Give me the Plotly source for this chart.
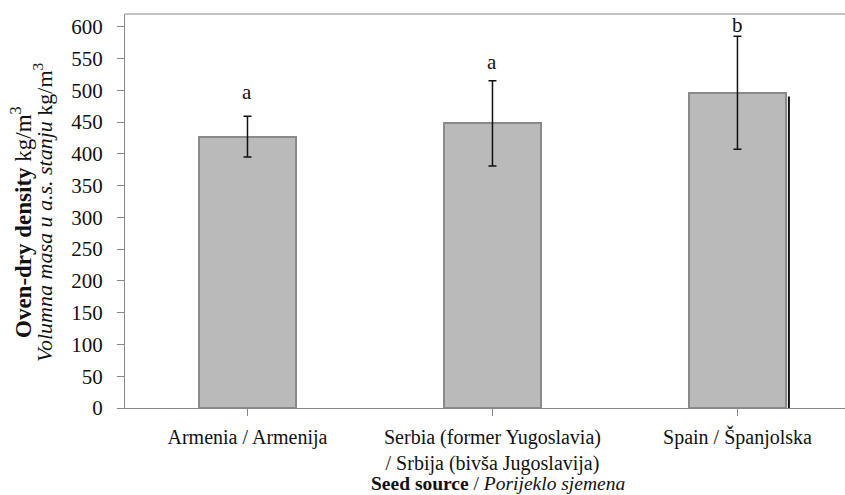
import plotly.graph_objects as go

categories = ["Armenia / Armenija",
              "Serbia (former Yugoslavia)<br>/ Srbija (bivša Jugoslavija)",
              "Spain / Španjolska"]
density = [427, 448, 496]
sd = [32, 67, 89]
letters = ["a", "a", "b"]
letter_y = [498, 545, 603]
yticks = list(range(0, 601, 50))

FONT = "Liberation Serif, Times New Roman, serif"

fig = go.Figure()
fig.add_trace(go.Bar(
    x=[0, 1, 2], y=density, width=0.397,
    marker=dict(color="#bababa", line=dict(color="#8a8a8a", width=2)),
    error_y=dict(type="data", array=sd, visible=True, color="#111111",
                 thickness=1.5, width=4),
    showlegend=False, hoverinfo="skip"))

for i, (ly, l) in enumerate(zip(letter_y, letters)):
    fig.add_annotation(x=i, y=ly, text=l, showarrow=False, yanchor="middle",
                       font=dict(family=FONT, size=21, color="#111"))

# y-axis title (two lines)
fig.add_annotation(xref="paper", yref="paper", x=0, y=0.5, xshift=-104, yshift=-11,
                   text="<b>Oven-dry density</b> kg/m<sup>3</sup>", textangle=-90,
                   showarrow=False, xanchor="center", yanchor="middle",
                   font=dict(family=FONT, size=23, color="#111"))
fig.add_annotation(xref="paper", yref="paper", x=0, y=0.5, xshift=-82, yshift=-1,
                   text="<i>Volumna masa u a.s. stanju</i> kg/m<sup>3</sup>", textangle=-90,
                   showarrow=False, xanchor="center", yanchor="middle",
                   font=dict(family=FONT, size=22, color="#111"))
# x-axis title
fig.add_annotation(xref="x", yref="paper", x=1, y=0, xshift=6, yshift=-75,
                   text="<b>Seed source</b> / <i>Porijeklo sjemena</i>",
                   showarrow=False, xanchor="center", yanchor="middle",
                   font=dict(family=FONT, size=19.5, color="#111"))

# top frame line
fig.add_shape(type="line", xref="paper", yref="paper", x0=0, x1=1, y0=1, y1=1,
              line=dict(color="#888", width=1))
# stray vertical line to the right of the Spain bar
fig.add_shape(type="line", xref="x", yref="y", x0=2.21, x1=2.21, y0=0, y1=490,
              line=dict(color="#111", width=2))

fig.update_layout(
    width=845, height=495,
    margin=dict(l=125, r=0, t=14, b=87),
    paper_bgcolor="white", plot_bgcolor="white",
    font=dict(family=FONT, size=20, color="#111"),
    bargap=0,
    xaxis=dict(
        range=[-0.5, 2.439], tickmode="array", tickvals=[0, 1, 2],
        ticktext=categories, tickson="boundaries",
        ticks="outside", ticklen=7, tickcolor="#888",
        ticklabelstandoff=4, automargin=False,
        showline=True, linecolor="#888", linewidth=1,
        showgrid=False, zeroline=False,
        tickfont=dict(family=FONT, size=20),
    ),
    yaxis=dict(
        range=[0, 620], tickmode="array", tickvals=yticks,
        ticks="outside", ticklen=7, tickcolor="#888",
        ticklabelstandoff=10, automargin=False,
        showline=True, linecolor="#888", linewidth=1,
        showgrid=False, zeroline=False,
        tickfont=dict(family=FONT, size=21),
    ),
)

fig.write_html("out.html", config={"displayModeBar": False},
               post_script="document.body.style.margin='0';"
                           "document.body.style.overflow='hidden';"
                           "document.documentElement.style.overflow='hidden';")
